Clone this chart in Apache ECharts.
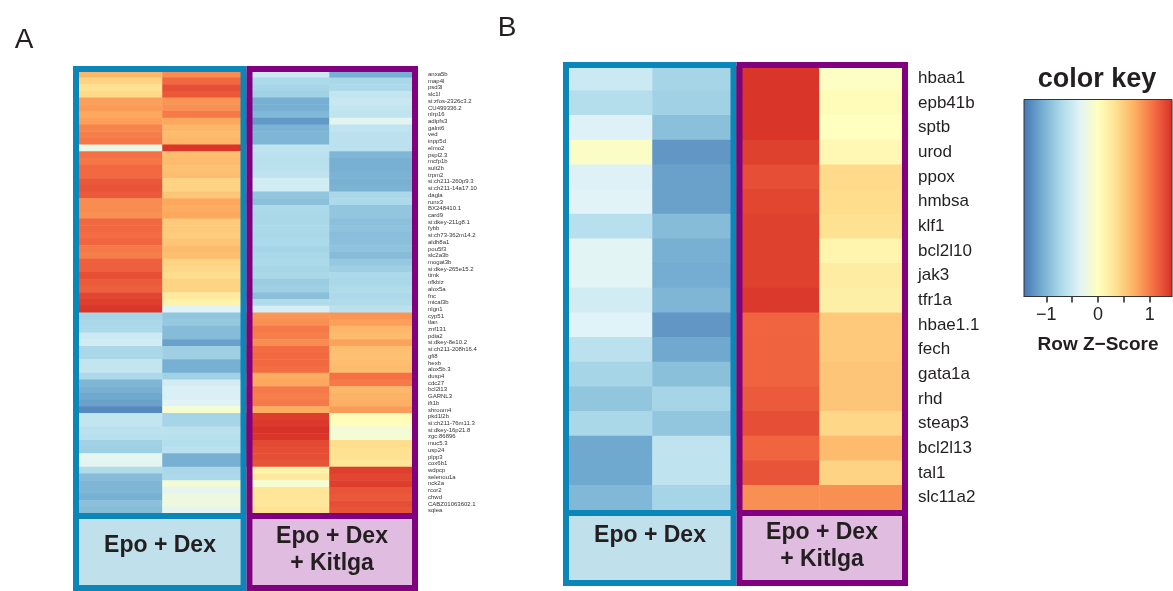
<!DOCTYPE html>
<html>
<head>
<meta charset="utf-8">
<script src="https://cdn.jsdelivr.net/npm/echarts/dist/echarts.min.js"></script>
<style>
html,body{margin:0;padding:0;background:#fff;}
#chart{width:1173px;height:591px;}
</style>
</head>
<body>
<div id="chart"></div>
<script>
// ---------- DATA ----------
const samples = ['Epo + Dex 1', 'Epo + Dex 2', 'Epo + Dex + Kitlga 1', 'Epo + Dex + Kitlga 2'];

const genesA = ['anxa5b','map4l','psd3l','slc1l','si:zfos-2326c3.2','CU499336.2','nlrp16','adipfs3','galnt6','ved',
'inpp5d','elmo2','pspl2.3','mcfp1b','sult2b','trpm2','si:ch211-260p9.3','si:ch211-14a17.10','dagla','runx3',
'BX248410.1','card9','si:dkey-211g8.1','fybb','si:ch73-362m14.2','aldh8a1','pou5f3','slc2a3b','mogat3b','si:dkey-265e15.2',
'timk','nfkbiz','alox5a','fnc','mical3b','nlgn1','cyp51','tlan','znf131','pdia2',
'si:dkey-8e10.2','si:ch211-208h16.4','gfi8','hexb','alox5b.3','dusp4','cdc27','bcl2l13','GARNL3','ift1b',
'shroom4','pkd1l2b','si:ch211-76m11.3','si:dkey-16p21.8','zgc:86896','muc5.3','usp24','plpp3','cox6b1','wdpcp',
'selenou1a','nck2a','rcor2','chwd','CABZ01063602.1','sqlea'];

const zA1 = [0.65,0.45,0.35,0.4,0.8,0.82,0.75,0.8,0.95,0.98,1.02,-0.25,1.05,1.02,1.1,1.1,1.2,1.22,1.18,0.9,0.9,0.88,1.1,1.1,1.08,1.12,1.0,0.98,1.15,1.15,1.25,1.18,1.15,
1.3,1.35,1.4,-0.75,-0.72,-0.7,-0.5,-0.45,-0.72,-0.72,-0.55,-0.55,-0.7,-1.0,-1.05,-1.1,-1.15,-1.3,-0.55,-0.55,-0.6,-0.62,-0.78,-0.8,-0.3,-0.32,-0.68,-0.95,-1.0,-1.0,-1.05,-0.92,-0.95];
const zA2 = [0.9,1.1,1.25,1.2,0.85,0.88,1.0,0.75,0.65,0.62,0.65,1.4,0.6,0.62,0.58,0.6,0.45,0.45,0.55,0.75,0.72,0.75,0.52,0.52,0.5,0.55,0.62,0.6,0.45,0.42,0.38,0.45,0.45,
0.25,0.15,-0.35,-0.88,-0.85,-0.95,-0.95,-1.15,-0.8,-0.8,-1.05,-1.05,-0.78,-0.45,-0.4,-0.4,-0.35,-0.1,-0.75,-0.75,-0.6,-0.62,-0.65,-0.6,-1.05,-1.05,-0.72,-0.7,-0.15,-0.3,-0.2,-0.22,-0.3];
const zA3 = [-0.5,-0.7,-0.75,-0.78,-1.05,-1.05,-0.98,-1.2,-1.02,-1.0,-1.0,-0.58,-0.6,-0.62,-0.6,-0.58,-0.45,-0.45,-0.88,-0.92,-0.7,-0.72,-0.72,-0.7,-0.72,-0.7,-0.75,-0.72,-0.7,-0.74,-0.72,-0.82,-0.8,
-0.92,-0.68,-0.42,0.85,0.88,1.0,0.98,0.9,1.08,1.1,1.1,1.08,0.72,0.75,1.0,0.98,1.0,0.72,1.35,1.38,1.42,1.4,1.28,1.25,1.25,1.22,0.15,0.25,-0.12,0.3,0.3,0.28,0.35];
const zA4 = [-1.05,-0.72,-0.7,-0.55,-0.52,-0.55,-0.58,-0.32,-0.58,-0.6,-0.6,-0.6,-1.0,-1.05,-1.05,-1.02,-1.05,-1.02,-0.72,-0.7,-0.88,-0.88,-0.92,-0.9,-0.93,-0.92,-0.9,-0.95,-0.85,-0.8,-0.7,-0.72,-0.68,
-0.7,-0.68,-0.6,0.85,0.8,0.65,0.62,0.78,0.6,0.58,0.6,0.62,1.05,1.0,0.65,0.68,0.7,0.82,0.05,0.02,-0.15,-0.12,0.38,0.35,0.35,0.3,1.35,1.3,1.35,1.22,1.2,1.25,1.22];

const genesB = ['hbaa1','epb41b','sptb','urod','ppox','hmbsa','klf1','bcl2l10','jak3','tfr1a',
'hbae1.1','fech','gata1a','rhd','steap3','bcl2l13','tal1','slc11a2'];
const zB1 = [-0.5,-0.65,-0.38,-0.05,-0.38,-0.35,-0.63,-0.33,-0.33,-0.45,-0.36,-0.6,-0.75,-0.88,-0.72,-1.1,-1.1,-0.98];
const zB2 = [-0.75,-0.78,-0.92,-1.22,-1.15,-1.15,-0.95,-1.05,-1.07,-1.0,-1.22,-1.1,-0.92,-0.75,-0.88,-0.58,-0.57,-0.75];
const zB3 = [1.4,1.4,1.4,1.33,1.25,1.3,1.33,1.33,1.33,1.38,1.12,1.13,1.13,1.18,1.25,1.12,1.22,0.88];
const zB4 = [-0.03,0.05,0.0,0.08,0.4,0.38,0.35,0.12,0.22,0.18,0.52,0.52,0.55,0.55,0.42,0.62,0.45,0.88];

const keyTicks = [-1, -0.5, 0, 0.5, 1];
const keyLabels = [-1, 0, 1];
const zMin = -1.43, zMax = 1.43;
const palette = ['#4575b4','#74add1','#abd9e9','#e0f3f8','#ffffbf','#fee090','#fdae61','#f46d43','#d73027'];

// ---------- BUILD ----------
function toCells(cols) {
  const out = [];
  cols.forEach((col, ci) => col.forEach((v, ri) => out.push([ci, ri, v])));
  return out;
}
const FONT = '"Liberation Sans", Arial, Helvetica, sans-serif';
const BLUE = '#0a86b8', PURPLE = '#800080';
const FILL_BLUE = '#c0e0ec', FILL_PURPLE = '#e0bde0';

function box(x0, x1, y0, y1, yDiv, color, fill, lw) {
  const h = lw / 2;
  return [
    { type: 'rect', z: 90, shape: { x: x0 + lw, y: yDiv + h, width: x1 - x0 - 2 * lw, height: y1 - yDiv - h - lw }, style: { fill: fill } },
    { type: 'rect', z: 100, shape: { x: x0 + h, y: y0 + h, width: x1 - x0 - lw, height: y1 - y0 - lw }, style: { fill: 'none', stroke: color, lineWidth: lw } },
    { type: 'line', z: 100, shape: { x1: x0 + h, y1: yDiv, x2: x1 - h, y2: yDiv }, style: { stroke: color, lineWidth: lw } }
  ];
}
function txt(s, x, y, size, weight) {
  return { type: 'text', z: 110, x: x, y: y, style: { text: s, fontSize: size, fontWeight: weight || 'normal', fontFamily: FONT, fill: '#231f20', align: 'center', verticalAlign: 'middle' } };
}

const gradStops = palette.map((c, i) => ({ offset: i / (palette.length - 1), color: c }));

const graphics = []
  .concat(box(73, 246.5, 66, 591, 516, BLUE, FILL_BLUE, 6))
  .concat(box(246.5, 418, 66, 591, 516, PURPLE, FILL_PURPLE, 6))
  .concat(box(563, 736.5, 62, 586, 513, BLUE, FILL_BLUE, 6))
  .concat(box(736.5, 908, 62, 586, 513, PURPLE, FILL_PURPLE, 6))
  .concat([
    txt('Epo + Dex', 160, 546, 23, 'bold'),
    txt('Epo + Dex', 332, 537, 23, 'bold'),
    txt('+ Kitlga', 332, 564, 23, 'bold'),
    txt('Epo + Dex', 650, 536, 23, 'bold'),
    txt('Epo + Dex', 822, 533, 23, 'bold'),
    txt('+ Kitlga', 822, 560, 23, 'bold'),
    txt('A', 24, 40, 28, 'normal'),
    txt('B', 507, 28, 28, 'normal'),
    txt('color key', 1097, 80, 27, 'bold'),
    txt('Row Z\u2212Score', 1098, 345, 19, 'bold'),
    { type: 'rect', z: 1, shape: { x: 1024, y: 99.5, width: 148, height: 197 },
      style: { fill: new echarts.graphic.LinearGradient(0, 0, 1, 0, gradStops), stroke: '#333', lineWidth: 1 } }
  ]);

const chart = echarts.init(document.getElementById('chart'), null, { renderer: 'canvas' });
chart.setOption({
  animation: false,
  backgroundColor: '#ffffff',
  textStyle: { fontFamily: FONT },
  grid: [
    { left: 79, top: 71, width: 334, height: 443 },
    { left: 569, top: 66, width: 334, height: 444 },
    { left: 1024, top: 99.5, width: 148, height: 197 }
  ],
  xAxis: [
    { gridIndex: 0, type: 'category', data: samples, show: false },
    { gridIndex: 1, type: 'category', data: samples, show: false },
    { gridIndex: 2, type: 'value', min: zMin, max: zMax, position: 'bottom',
      axisLine: { show: true, lineStyle: { color: '#222', width: 1 } },
      axisTick: { show: true, customValues: keyTicks, length: 6, lineStyle: { color: '#222', width: 1.5 } },
      axisLabel: { customValues: keyLabels, fontSize: 18, color: '#222', margin: 10,
        formatter: v => (v < 0 ? '\u2212' + Math.abs(v) : String(v)) },
      splitLine: { show: false } }
  ],
  yAxis: [
    { gridIndex: 0, type: 'category', data: genesA, inverse: true, position: 'right',
      axisLine: { show: false }, axisTick: { show: false },
      axisLabel: { interval: 0, fontSize: 6, margin: 15, color: '#333' } },
    { gridIndex: 1, type: 'category', data: genesB, inverse: true, position: 'right',
      axisLine: { show: false }, axisTick: { show: false },
      axisLabel: { interval: 0, fontSize: 17, margin: 15, color: '#231f20' } },
    { gridIndex: 2, type: 'value', show: false }
  ],
  visualMap: { show: false, type: 'continuous', min: zMin, max: zMax, dimension: 2, seriesIndex: [0, 1],
    inRange: { color: palette } },
  series: [
    { type: 'heatmap', xAxisIndex: 0, yAxisIndex: 0, data: toCells([zA1, zA2, zA3, zA4]) },
    { type: 'heatmap', xAxisIndex: 1, yAxisIndex: 1, data: toCells([zB1, zB2, zB3, zB4]) }
  ],
  graphic: graphics
});
</script>
</body>
</html>
